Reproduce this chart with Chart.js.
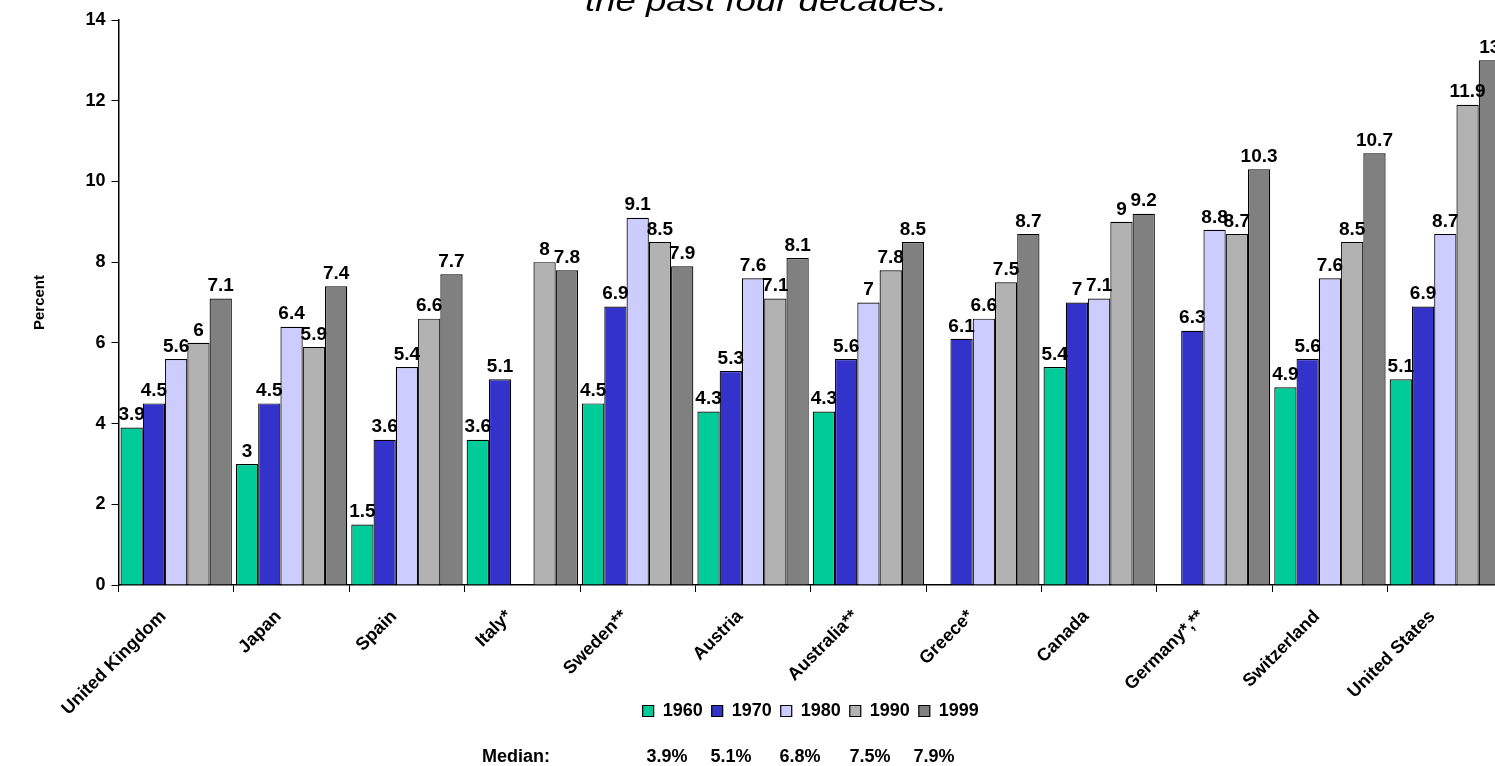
<!DOCTYPE html>
<html>
<head>
<meta charset="utf-8">
<script src="https://cdn.jsdelivr.net/npm/chart.js@4.4.0/dist/chart.umd.min.js"></script>
<style>
  html, body { margin: 0; padding: 0; background: #fff; overflow: hidden; }
  #wrap { position: absolute; left: 0; top: 0; width: 1510px; height: 766px; }
</style>
</head>
<body>
<div id="wrap"><canvas id="chart"></canvas></div>
<script>
// data
const countries = ['United Kingdom', 'Japan', 'Spain', 'Italy*', 'Sweden**', 'Austria',
    'Australia**', 'Greece*', 'Canada', 'Germany*,**', 'Switzerland', 'United States'];
const years = ['1960', '1970', '1980', '1990', '1999'];
const v1960 = [3.9, 3, 1.5, 3.6, 4.5, 4.3, 4.3, null, 5.4, null, 4.9, 5.1];
const v1970 = [4.5, 4.5, 3.6, 5.1, 6.9, 5.3, 5.6, 6.1, 7, 6.3, 5.6, 6.9];
const v1980 = [5.6, 6.4, 5.4, null, 9.1, 7.6, 7, 6.6, 7.1, 8.8, 7.6, 8.7];
const v1990 = [6, 5.9, 6.6, 8, 8.5, 7.1, 7.8, 7.5, 9, 8.7, 8.5, 11.9];
const v1999 = [7.1, 7.4, 7.7, 7.8, 7.9, 8.1, 8.5, 8.7, 9.2, 10.3, 10.7, 13];
const yTicks = [0, 2, 4, 6, 8, 10, 12, 14];
const medians = ['3.9%', '5.1%', '6.8%', '7.5%', '7.9%'];

const colors = ['#00CC99', '#3333CC', '#CCCCFF', '#B2B2B2', '#808080'];
const FONT = 'Liberation Sans, Arial, sans-serif';

const series = [v1960, v1970, v1980, v1990, v1999];
const datasets = series.map((vals, i) => ({
    label: years[i],
    data: vals,
    backgroundColor: colors[i],
    borderColor: '#000',
    borderWidth: 1.2,
    categoryPercentage: 0.965,
    barPercentage: 1.0
}));

// numbers above bars, title line, median row
const extras = {
    id: 'extras',
    afterDatasetsDraw(chart) {
        const ctx = chart.ctx;
        ctx.save();
        ctx.fillStyle = '#000';
        ctx.font = 'bold 19px ' + FONT;
        ctx.textAlign = 'center';
        ctx.textBaseline = 'bottom';
        chart.data.datasets.forEach((ds, di) => {
            const meta = chart.getDatasetMeta(di);
            meta.data.forEach((bar, i) => {
                const v = ds.data[i];
                if (v === null || v === undefined) return;
                ctx.fillText(String(v), bar.x, bar.y - 3);
            });
        });
        ctx.restore();
    },
    afterDraw(chart) {
        const ctx = chart.ctx;
        ctx.save();
        ctx.fillStyle = '#000';
        // title, cut off at the top like the original
        ctx.save();
        ctx.translate(766, 11);
        ctx.scale(1.22, 1);
        ctx.font = 'italic 30px ' + FONT;
        ctx.textAlign = 'center';
        ctx.textBaseline = 'alphabetic';
        ctx.fillText('the past four decades.', 0, 0);
        ctx.restore();
        // median row
        ctx.font = 'bold 18px ' + FONT;
        ctx.textBaseline = 'middle';
        ctx.textAlign = 'center';
        ctx.fillText('Median:', 516, 757);
        const mx = [667, 731, 800, 870, 934];
        medians.forEach((m, i) => ctx.fillText(m, mx[i], 757));
        ctx.restore();
    }
};

new Chart(document.getElementById('chart'), {
    type: 'bar',
    data: { labels: countries, datasets: datasets },
    options: {
        responsive: true,
        maintainAspectRatio: false,
        animation: false,
        layout: { padding: { top: 20, right: 7, bottom: 36, left: 0 } },
        plugins: {
            legend: {
                position: 'bottom',
                fullSize: false,
                labels: {
                    color: '#000',
                    font: { family: FONT, size: 18, weight: 'bold' },
                    boxWidth: 11,
                    boxHeight: 11,
                    padding: 9
                }
            },
            tooltip: { enabled: false }
        },
        scales: {
            x: {
                offset: true,
                grid: { offset: true, drawOnChartArea: false, drawTicks: true, tickLength: 7, color: '#000' },
                border: { color: '#000', width: 1.5 },
                ticks: {
                    color: '#000',
                    font: { family: FONT, size: 18, weight: 'bold' },
                    minRotation: 45,
                    maxRotation: 45,
                    autoSkip: false,
                    padding: 14,
                    labelOffset: -13
                },
                afterFit(scale) {
                    scale.height = 108;
                    // long rotated names run past the axis box, down beside the legend
                    scale._computeLabelArea = () => undefined;
                }
            },
            y: {
                min: 0,
                max: 14,
                afterBuildTicks(scale) { scale.ticks = yTicks.map(v => ({ value: v })); },
                grid: { drawOnChartArea: false, drawTicks: true, tickLength: 7, color: '#000' },
                border: { color: '#000', width: 1.5 },
                ticks: {
                    color: '#000',
                    font: { family: FONT, size: 18, weight: 'bold' },
                    padding: 6
                },
                title: {
                    display: true,
                    text: 'Percent',
                    color: '#000',
                    font: { family: FONT, size: 15, weight: 'bold' },
                    padding: { top: 31, bottom: 0 }
                },
                afterFit(scale) { scale.width = 118.5; }
            }
        }
    },
    plugins: [extras]
});
</script>
</body>
</html>
